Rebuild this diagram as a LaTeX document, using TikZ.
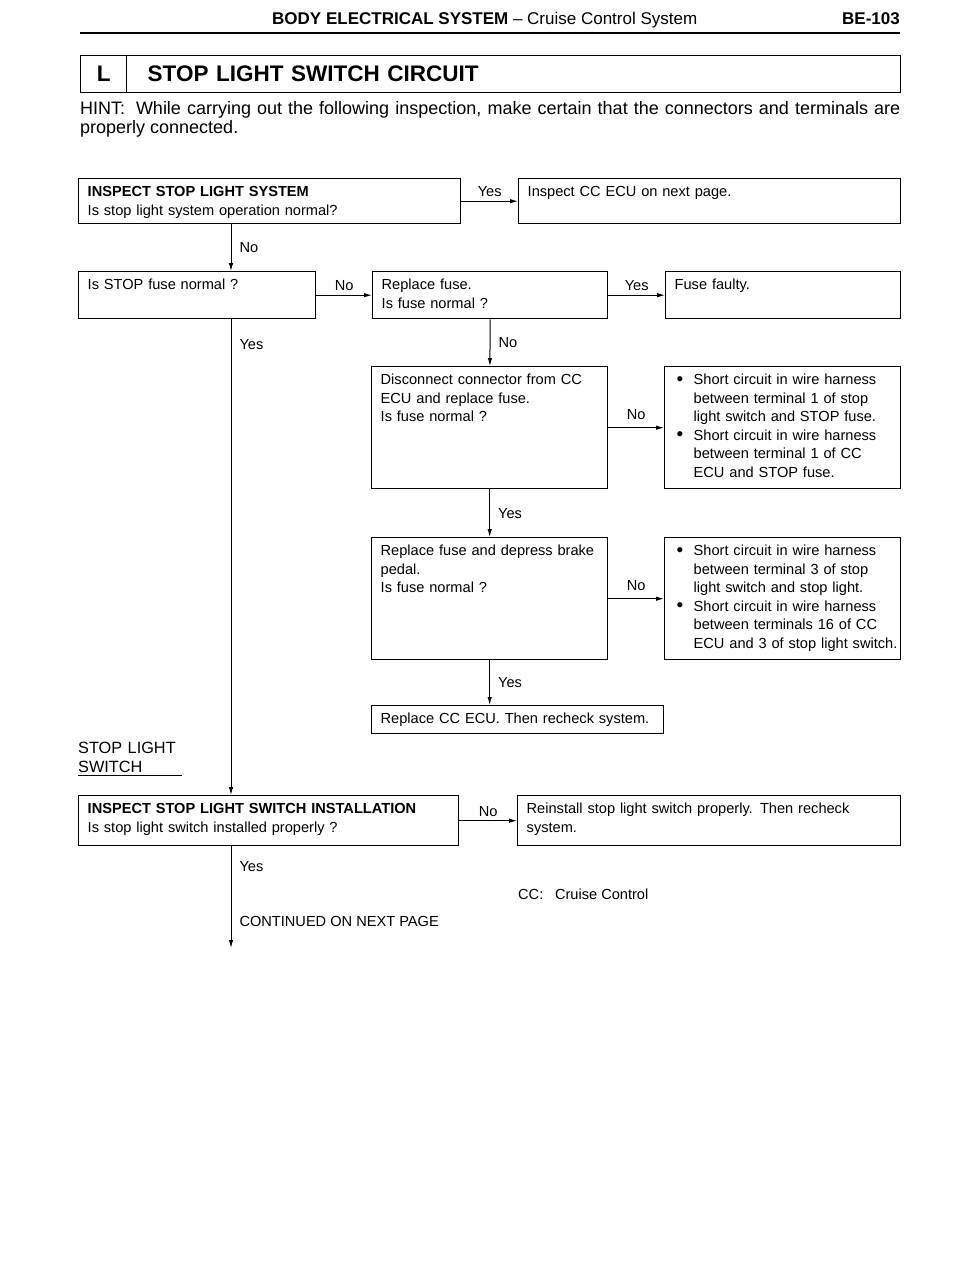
\documentclass[tikz,border=0pt]{standalone}
\usepackage{fontspec}
\setmainfont{Liberation Sans}
\usetikzlibrary{arrows.meta}
\newcommand\bodyfont{\fontsize{14.6}{18.5}\selectfont}
\newcommand\blt{\makebox[26pt][l]{\hspace{9pt}\raisebox{-0.5pt}{\fontsize{19}{18}\selectfont\textbullet}}}
\newcommand\ind{\hspace*{26pt}}

\begin{document}
\begin{tikzpicture}[x=1pt,y=-1pt,
  chk/.style={draw,line width=1.4pt,anchor=north west,align=left,inner xsep=9pt,inner ysep=0pt,text height=18pt,font=\bodyfont},
  cause/.style={chk,inner xsep=3pt},
  flow/.style={line width=1pt,-{Latex[length=8pt,width=4.5pt]}},
  lbl/.style={font=\bodyfont,inner sep=4pt}]
  \useasboundingbox (0,0) rectangle (960,1280);

  % page head
  \node[anchor=base west,inner sep=0pt,font=\fontsize{17}{20}\selectfont] (hdr) at (272,24) {\textbf{BODY ELECTRICAL SYSTEM} -- Cruise Control System};
  \node[anchor=base east,inner sep=0pt,font=\fontsize{17}{20}\selectfont\bfseries] (pgno) at (900,24) {BE-103};
  \draw[line width=2.5pt] (80,33) -- (900,33);

  \node[draw,line width=1.4pt,anchor=north west,minimum width=46pt,minimum height=37pt,font=\fontsize{22.5}{26}\selectfont\bfseries] (secL) at (80,55) {L};
  \node[draw,line width=1.4pt,anchor=north west,text width=732pt,inner xsep=21pt,minimum height=37pt,align=left,font=\fontsize{22.5}{26}\selectfont\bfseries] (secT) at (126,55) {STOP LIGHT SWITCH CIRCUIT};

  \node[anchor=base west,inner sep=0pt,text width=820pt,align=justify,font=\fontsize{18}{19.5}\selectfont] (hint) at (80,114)
    {HINT:\hspace{0.6em}While carrying out the following inspection, make certain that the connectors and terminals are \mbox{properly} connected.};

  % checks
  \coordinate (trunk) at (231,0);
  \node[chk,text width=364pt,text depth=27pt] (chkA) at (78,178) {\textbf{INSPECT STOP LIGHT SYSTEM}\\Is stop light system operation normal?};
  \node[chk,text width=364pt,text depth=27pt] (chkB) at (518,178) {Inspect CC ECU on next page.};
  \node[chk,text width=219pt,text depth=29pt] (chkC) at (78,271) {Is STOP fuse normal ?};
  \node[chk,text width=217pt,text depth=29pt] (chkD) at (372,271) {Replace fuse.\\Is fuse normal ?};
  \node[chk,text width=217pt,text depth=29pt] (chkE) at (665,271) {Fuse faulty.};
  \node[chk,text width=218pt,text depth=104pt] (chkF) at (371,366) {Disconnect connector from CC\\ECU and replace fuse.\\Is fuse normal ?};
  \node[cause,text width=230pt,text depth=104pt] (chkG) at (664,366)
    {\blt Short circuit in wire harness\\\ind between terminal 1 of stop\\\ind light switch and STOP fuse.\\\blt Short circuit in wire harness\\\ind between terminal 1 of CC\\\ind ECU and STOP fuse.};
  \node[chk,text width=218pt,text depth=104pt] (chkH) at (371,537) {Replace fuse and depress brake\\pedal.\\Is fuse normal ?};
  \node[cause,text width=230pt,text depth=104pt] (chkI) at (664,537)
    {\blt Short circuit in wire harness\\\ind between terminal 3 of stop\\\ind light switch and stop light.\\\blt Short circuit in wire harness\\\ind between terminals 16 of CC\\\ind\mbox{ECU and 3 of stop light switch.}};
  \node[chk,text width=274pt,text depth=10pt] (chkJ) at (371,705) {Replace CC ECU. Then recheck system.};
  \node[chk,text width=362pt,text depth=32pt] (chkK) at (78,795) {\textbf{INSPECT STOP LIGHT SWITCH INSTALLATION}\\Is stop light switch installed properly ?};
  \node[chk,text width=365pt,text depth=32pt] (chkL) at (517,795) {Reinstall stop light switch properly. Then recheck\\system.};

  \node[anchor=base west,inner sep=0pt,text width=120pt,align=left,font=\fontsize{16.3}{19}\selectfont] (swlbl) at (78,753) {STOP LIGHT\\SWITCH};
  \draw[line width=0.8pt] (78,775) -- (182,775);
  \node[lbl,anchor=base west,inner sep=0pt] (ccnote) at (518,899) {CC:\hspace{0.8em}Cruise Control};

  % connectors
  \draw[flow] (chkA) -- (chkB) node[lbl,midway,above] (yesA) {Yes};
  \draw[flow] (chkA.south -| trunk) -- (chkC.north -| trunk) node[lbl,midway,right,xshift=4pt] (noA) {No};
  \draw[flow] (chkC) -- (chkD) node[lbl,midway,above] (noC) {No};
  \draw[flow] (chkD) -- (chkE) node[lbl,midway,above] (yesD) {Yes};
  \draw[flow] (chkC.south -| trunk) -- (chkK.north -| trunk) node[lbl,pos=0.052,right,xshift=4pt] (yesC) {Yes};
  \draw[flow] (chkD) -- (chkF) node[lbl,midway,right,xshift=4pt] (noD) {No};
  \draw[flow] (chkF) -- (chkG) node[lbl,midway,above,yshift=4pt] (noF) {No};
  \draw[flow] (chkF) -- (chkH) node[lbl,midway,right,xshift=4pt] (yesF) {Yes};
  \draw[flow] (chkH) -- (chkI) node[lbl,midway,above,yshift=4pt] (noH) {No};
  \draw[flow] (chkH.south) -- (chkJ.north -| chkH.south) node[lbl,midway,right,xshift=4pt] (yesH) {Yes};
  \draw[flow] (chkK) -- (chkL) node[lbl,midway,above] (noK) {No};
  \coordinate (contend) at (231,948);
  \draw[flow] (chkK.south -| trunk) -- (contend)
    node[lbl,pos=0.2,right,xshift=4pt] (yesK) {Yes}
    node[lbl,pos=0.74,right,xshift=4pt] (contd) {CONTINUED ON NEXT PAGE};
\end{tikzpicture}
\end{document}
